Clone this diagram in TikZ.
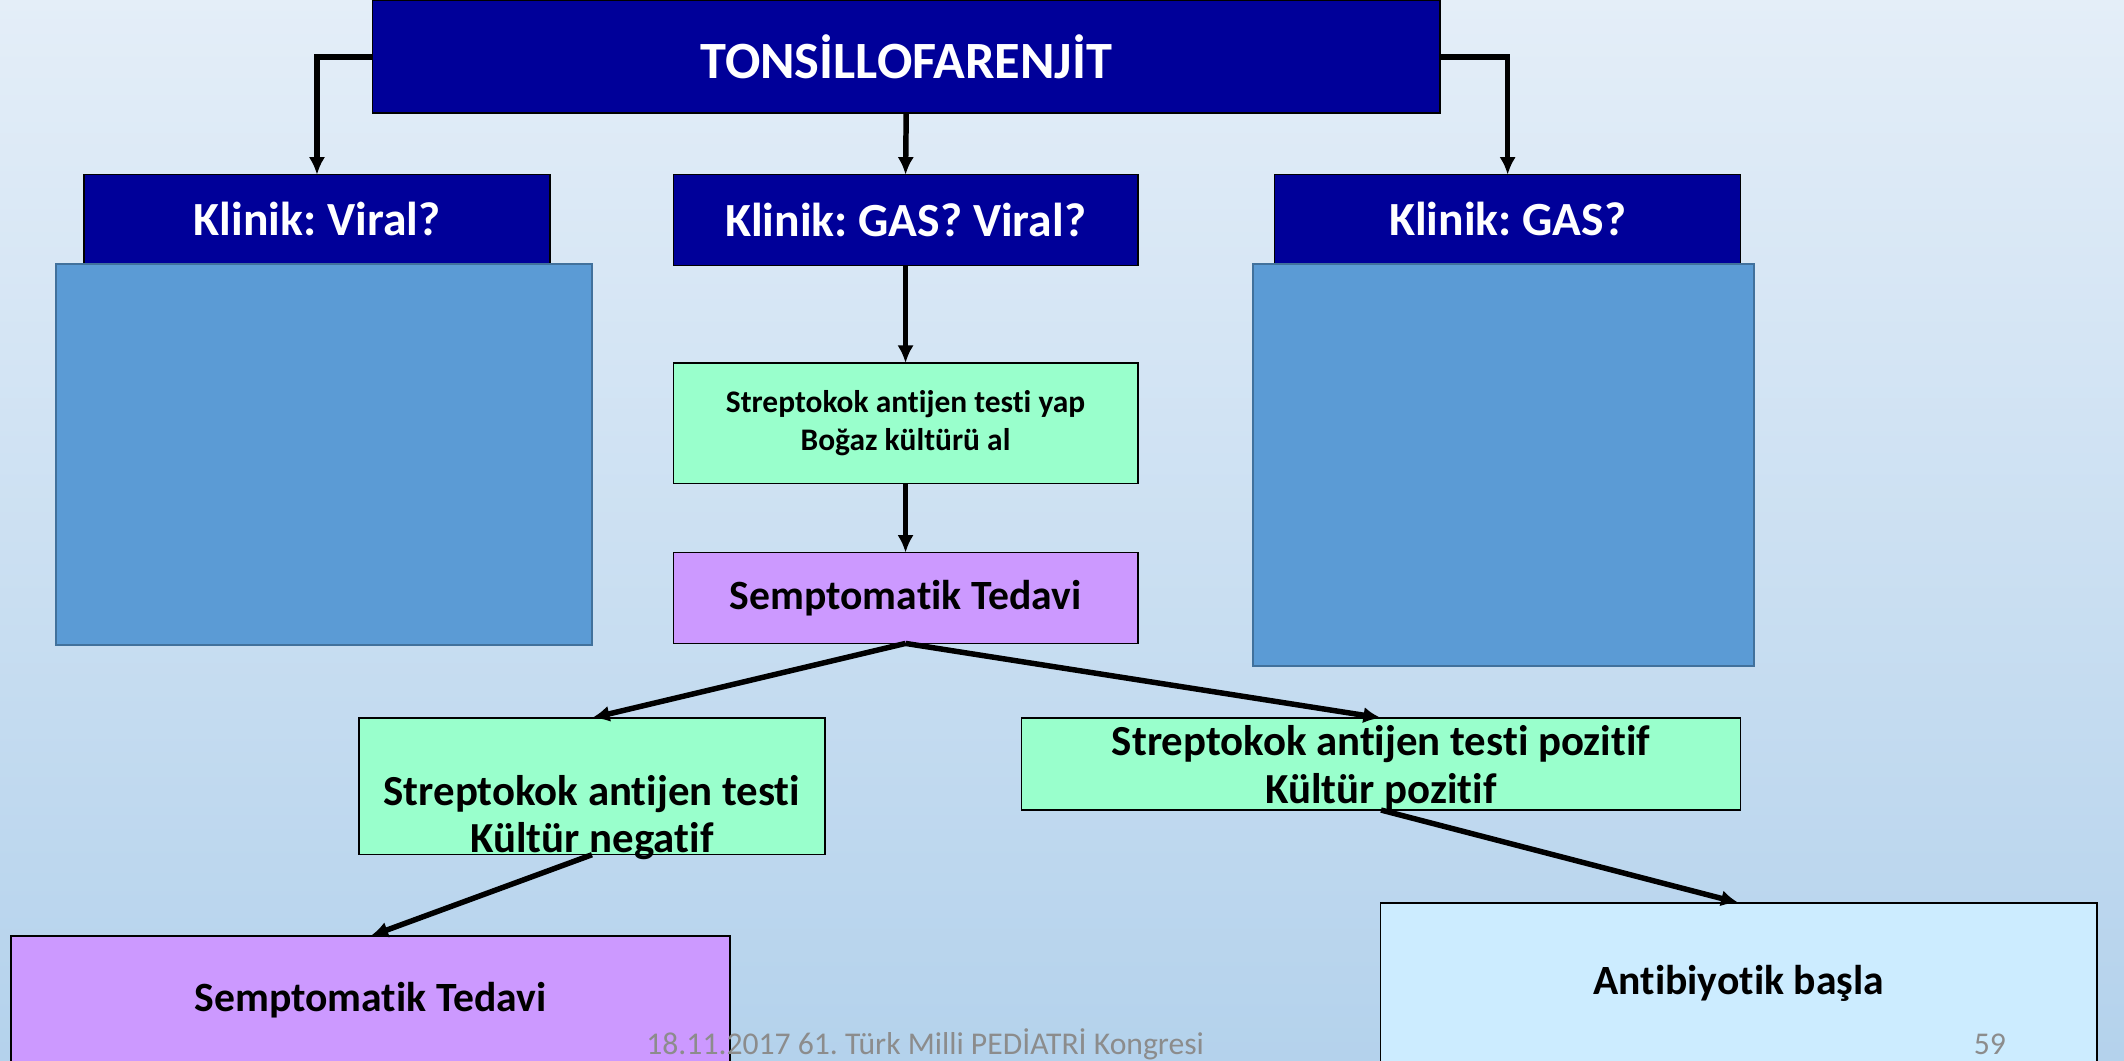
\documentclass[tikz,border=0pt]{standalone}
\usepackage{fontspec}
\setmainfont{Carlito}[Ligatures={NoCommon}]
\usetikzlibrary{arrows.meta}
\definecolor{navy}{HTML}{000099}
\definecolor{panelblue}{HTML}{5B9BD5}
\definecolor{panelline}{HTML}{41719C}
\definecolor{mint}{HTML}{99FFCC}
\definecolor{lilac}{HTML}{CC99FF}
\definecolor{sky}{HTML}{CCECFF}
\definecolor{bgtop}{HTML}{E4EEF8}
\definecolor{bgbottom}{HTML}{B4D2EC}
\frenchspacing
\tikzset{
  box/.style={rectangle,inner sep=0pt,outer sep=0pt,draw=black,line width=0.6pt},
  head/.style={box,fill=navy,text=white,font=\bfseries\fontsize{22}{26}\selectfont},
  clinic/.style={box,fill=navy,text=white,font=\bfseries\fontsize{20}{24}\selectfont},
  panel/.style={rectangle,inner sep=0pt,outer sep=0pt,draw=panelline,fill=panelblue,line width=0.9pt},
  testbox/.style={box,fill=mint},
  treat/.style={box,fill=lilac},
  big/.style={align=center,font=\bfseries\fontsize{18}{20}\selectfont},
  arrow/.style={-{Latex[length=2.6mm,width=2.4mm]},line width=2.3pt}
}

\begin{document}
\begin{tikzpicture}[x=0.02cm,y=-0.02cm]
    \useasboundingbox (0,0) rectangle (1568,783);
    \fill[top color=bgtop,bottom color=bgbottom] (0,0) rectangle (1568,783);

    % top row
    \node[head,minimum width=15.76cm,minimum height=1.66cm] (title) at (669,42) {TONSİLLOFARENJİT};
    \node[clinic,minimum width=6.88cm,minimum height=1.32cm] (viral) at (234,162) {Klinik: Viral?};
    \node[clinic,minimum width=6.86cm,minimum height=1.34cm] (both) at (668.5,162.5) {Klinik: GAS? Viral?};
    \node[clinic,minimum width=6.88cm,minimum height=1.32cm] (gas) at (1113,162) {Klinik: GAS?};
    \node[panel,minimum width=7.92cm,minimum height=5.62cm] (leftpanel) at (239,335.5) {};
    \node[panel,minimum width=7.40cm,minimum height=5.94cm] (rightpanel) at (1110,343.5) {};

    % middle column
    \node[testbox,minimum width=6.86cm,minimum height=1.78cm,align=center,
          font=\bfseries\fontsize{13.2}{15.7}\selectfont] (test) at (668.5,312.5)
          {Streptokok antijen testi yap\\Boğaz kültürü al};
    \node[treat,minimum width=6.86cm,minimum height=1.34cm,
          font=\bfseries\fontsize{17.5}{20}\selectfont] (sympt) at (668.5,441.5) {Semptomatik Tedavi};

    % results
    \node[testbox,minimum width=6.88cm,minimum height=2.02cm] (neg) at (437,580.5) {};
    \node[big,text depth=0pt] (negtext) at (437,601) {Streptokok antijen testi\\Kültür negatif};
    \node[testbox,minimum width=10.62cm,minimum height=1.36cm] (pos) at (1019.5,564) {};
    \node[big] (postext) at (1019.5,567) {Streptokok antijen testi pozitif\\Kültür pozitif};

    % bottom row
    \node[treat,minimum width=10.62cm,minimum height=2.4cm] (sympt2) at (273.5,751) {};
    \node[font=\bfseries\fontsize{17.5}{20}\selectfont] (sympttext) at (273.5,738) {Semptomatik Tedavi};
    \node[box,fill=sky,minimum width=10.58cm,minimum height=2.9cm] (abx) at (1283.5,739) {};
    \node[font=\bfseries\fontsize{17.5}{20}\selectfont] (abxtext) at (1283.5,726) {Antibiyotik başla};

    % footer
    \node[text=black!45,font=\fontsize{13.3}{15}\selectfont] (footer) at (683,771) {18.11.2017 61. Türk Milli PEDİATRİ Kongresi};
    \node[text=black!45,font=\fontsize{13.3}{15}\selectfont] (page) at (1469,771) {59};

    % connectors
    \draw[arrow] (title.west) -| (viral.north);
    \draw[arrow] (title.south) -- (both.north);
    \draw[arrow] (title.east) -| (gas.north);
    \draw[arrow] (both.south) -- (test.north);
    \draw[arrow] (test.south) -- (sympt.north);
    \draw[arrow] (sympt.south) -- (neg.north);
    \draw[arrow] (sympt.south) -- (pos.north);
    \draw[arrow] (neg.south) -- (sympt2.north);
    \draw[arrow] (pos.south) -- (abx.north);
  \end{tikzpicture}
\end{document}
